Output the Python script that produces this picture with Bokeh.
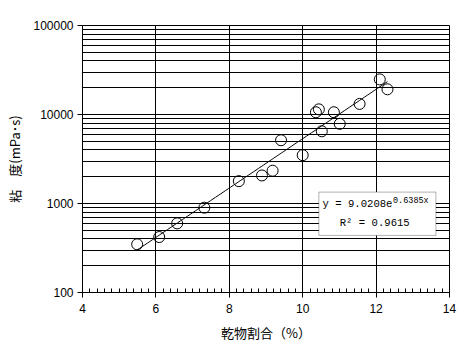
import numpy as np
from bokeh.plotting import figure
from bokeh.models import FixedTicker, Label, BoxAnnotation
from bokeh.embed import file_html
from bokeh.resources import INLINE

# data
dry_ratio = [5.49, 6.09, 6.58, 7.32, 8.26, 8.89, 9.18, 9.41, 10.0, 10.52,
             10.36, 10.44, 10.85, 11.01, 11.55, 12.1, 12.31]
viscosity = [348, 420, 598, 897, 1783, 2065, 2335, 5140, 3490, 6480,
             10600, 11430, 10600, 7850, 13150, 24800, 19200]

trend_a = 9.0208
trend_b = 0.6385
r2 = 0.9615

x_ticks = [4, 6, 8, 10, 12, 14]
y_ticks = [100, 1000, 10000, 100000]
y_minor = [m * d for d in [100, 1000, 10000] for m in range(2, 10)]
x_minor = [round(4 + 0.2 * i, 2) for i in range(51)]

p = figure(frame_width=367, frame_height=267, output_backend="svg", toolbar_location=None,
           y_axis_type="log", x_range=(4, 14), y_range=(100, 100000),
           min_border_left=82, min_border_right=24, min_border_top=25,
           min_border_bottom=65)
p.background_fill_color = "white"
p.border_fill_color = "white"
p.outline_line_color = "black"
p.outline_line_width = 1

# trendline
tx = np.linspace(min(dry_ratio), max(dry_ratio), 100)
ty = trend_a * np.exp(trend_b * tx)
p.line(tx, ty, line_color="black", line_width=1)

p.scatter(dry_ratio, viscosity, marker="circle", size=11, fill_color=None,
          line_color="black", line_width=1)

# axes
p.xaxis.ticker = FixedTicker(ticks=x_ticks, minor_ticks=x_minor)
p.yaxis.ticker = FixedTicker(ticks=y_ticks, minor_ticks=y_minor)
p.yaxis.major_label_overrides = {t: str(t) for t in y_ticks}

for ax in [p.xaxis[0], p.yaxis[0]]:
    ax.axis_line_color = "black"
    ax.major_tick_line_color = "black"
    ax.minor_tick_line_color = "black"
    ax.major_tick_out = 5
    ax.major_tick_in = 0
    ax.major_label_text_font = "Liberation Sans"
    ax.major_label_text_font_size = "12px"
    ax.major_label_text_color = "black"
    ax.axis_label_text_font = "Noto Sans CJK JP"
    ax.axis_label_text_font_style = "normal"
    ax.axis_label_text_font_size = "13px"
    ax.axis_label_text_color = "black"

p.xaxis.minor_tick_in = 4
p.xaxis.minor_tick_out = 0
p.xaxis.major_label_standoff = 6
p.xaxis.axis_label = "乾物割合（%）"
p.xaxis.axis_label_standoff = 7

p.yaxis.minor_tick_in = 0
p.yaxis.minor_tick_out = 0
p.yaxis.major_label_standoff = 4
p.yaxis.axis_label = "粘　度(mPa･s)"
p.yaxis.axis_label_standoff = 6

p.xgrid.grid_line_color = "black"
p.xgrid.grid_line_width = 1
p.ygrid.grid_line_color = "black"
p.ygrid.grid_line_width = 1
p.ygrid.minor_grid_line_color = "black"
p.ygrid.minor_grid_line_width = 1

# equation box
p.add_layout(BoxAnnotation(left=10.44, right=13.63, bottom=438, top=1343,
                           fill_color="white", fill_alpha=1.0,
                           line_color="black", line_width=1, level="overlay"))
p.add_layout(Label(x=10.54, y=977, text="y = 9.0208e", text_font="Liberation Mono",
                   text_font_size="10.6px", text_color="black", text_baseline="middle",
                   level="overlay"))
p.add_layout(Label(x=12.46, y=1070, text="0.6385x", text_font="Liberation Mono",
                   text_font_size="8.5px", text_color="black", text_baseline="middle",
                   level="overlay"))
p.add_layout(Label(x=11.01, y=599, text="R² = " + str(r2), text_font="Liberation Mono",
                   text_font_size="10.6px", text_color="black", text_baseline="middle",
                   level="overlay"))

open("out.html", "w").write(file_html(p, INLINE))
